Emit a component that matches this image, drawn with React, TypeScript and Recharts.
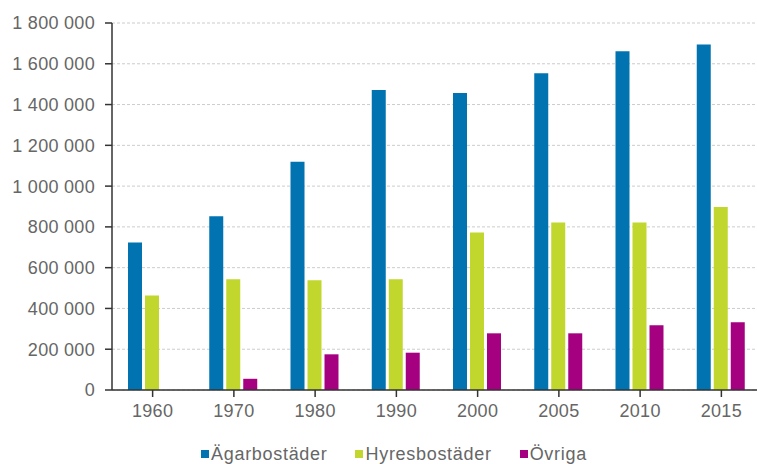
import { BarChart, Bar, XAxis, YAxis, CartesianGrid, Legend } from 'recharts';

// Housing stock by tenure, 1960-2015
const years = ['1960', '1970', '1980', '1990', '2000', '2005', '2010', '2015'];
const agarbostader = [724000, 852000, 1120000, 1471000, 1457000, 1553000, 1661000, 1694000];
const hyresbostader = [464000, 543000, 538000, 543000, 773000, 821000, 821000, 897000];
const ovriga = [null, 55000, 175000, 183000, 278000, 278000, 317000, 332000];
const yTicks = [0, 200000, 400000, 600000, 800000, 1000000, 1200000, 1400000, 1600000, 1800000];

const series = [
  { key: 'agar', name: 'Ägarbostäder', color: '#0073B0' },
  { key: 'hyres', name: 'Hyresbostäder', color: '#C1D72E' },
  { key: 'ovriga', name: 'Övriga', color: '#A5007F' },
];

const chartData = years.map((year, i) => ({
  year,
  agar: agarbostader[i],
  hyres: hyresbostader[i],
  ovriga: ovriga[i],
}));

const fmt = (v: number) => String(v).replace(/\B(?=(\d{3})+(?!\d))/g, ' ');

const FONT = '"Liberation Sans", Arial, sans-serif';
const TEXT = '#666666';
const AXIS = '#333333';
const tickStyle = { fill: TEXT, fontSize: 18, fontFamily: FONT, letterSpacing: 0.3 };

const LegendContent = () => (
  <div style={{ display: 'flex', fontFamily: FONT, fontSize: 18, letterSpacing: 0.7, color: TEXT, lineHeight: '20px' }}>
    {series.map((s) => (
      <div key={s.key} style={{ display: 'flex', alignItems: 'center', marginRight: 28 }}>
        <span style={{ width: 8, height: 8, background: s.color, marginRight: 2, display: 'inline-block' }} />
        <span>{s.name}</span>
      </div>
    ))}
  </div>
);

const App = () => {
  return (
    <div style={{ width: 757, height: 464, overflow: 'hidden', position: 'relative' }}>
      <style>{'body{margin:0}'}</style>
      <BarChart
        width={762}
        height={464}
        data={chartData}
        margin={{ top: 23, right: 0, left: 0, bottom: 14 }}
        barCategoryGap={16}
        barGap={3}
      >
        <CartesianGrid vertical={false} stroke="#cccccc" strokeDasharray="3 2" />
        <XAxis
          dataKey="year"
          height={40}
          tickSize={7}
          tickMargin={7}
          axisLine={{ stroke: AXIS, strokeWidth: 1.5 }}
          tickLine={{ stroke: AXIS, strokeWidth: 1.5 }}
          tick={tickStyle}
        />
        <YAxis
          width={112}
          domain={[0, 1800000]}
          ticks={yTicks}
          interval={0}
          tickFormatter={fmt}
          tickSize={7}
          tickMargin={10}
          axisLine={{ stroke: AXIS, strokeWidth: 1.5 }}
          tickLine={{ stroke: AXIS, strokeWidth: 1.5 }}
          tick={tickStyle}
        />
        <Legend
          verticalAlign="bottom"
          content={<LegendContent />}
          wrapperStyle={{ left: 201, width: 540, bottom: 0 }}
        />
        {series.map((s) => (
          <Bar key={s.key} dataKey={s.key} name={s.name} fill={s.color} isAnimationActive={false} />
        ))}
      </BarChart>
    </div>
  );
};

export default App;
